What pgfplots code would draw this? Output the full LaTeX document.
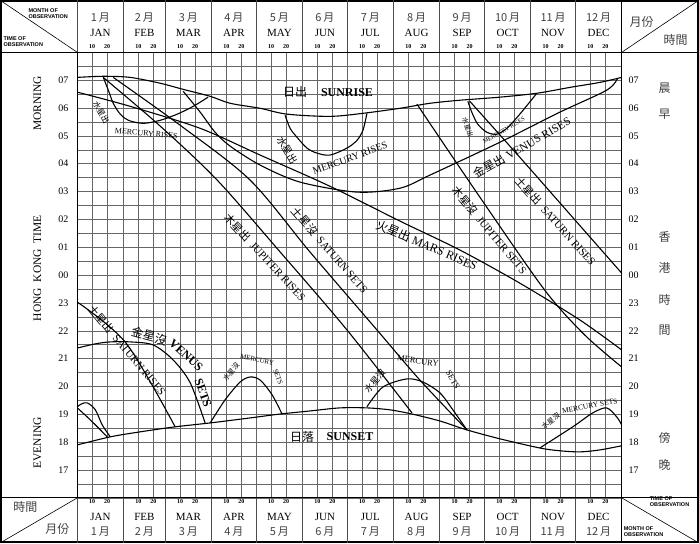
\documentclass[border=0pt]{standalone}
\usepackage{pgfplots}
\pgfplotsset{compat=1.18}
\usepackage{fontspec}
\setmainfont{Liberation Serif}
\setsansfont{Liberation Sans}
\newfontfamily\zh{Noto Sans CJK TC}
\begin{document}
\begin{tikzpicture}
\begin{axis}[at={(0pt,0pt)}, anchor=south west, width=545pt, height=446pt, scale only axis,
  xmin=0, xmax=365, ymin=16, ymax=32,
  xtick={0,10,20,31,41,51,59,69,79,90,100,110,120,130,140,151,161,171,181,191,201,212,222,232,243,253,263,273,283,293,304,314,324,334,344,354,365},
  ytick={16,16.5,...,32}, xticklabels={}, yticklabels={},
  grid=major, major grid style={black!60, line width=0.5pt}, major tick length=0pt,
  axis line style={line width=0.8pt},
  crv/.style={black, line width=1.1pt, smooth, no markers}]
% Sunrise
\addplot[crv] coordinates {(0,31.10) (17.4,31.14) (35.5,31.10) (55.6,30.89) (71.0,30.67) (89.1,30.42) (102.5,30.17) (122.6,29.99) (140.6,29.78) (169.4,29.70) (191.5,29.81) (216.3,29.99) (236.4,30.17) (256.5,30.28) (283.3,30.39) (308.1,30.53) (330.2,30.74) (350.3,30.92) (365,31.10)};
% Sunset
\addplot[crv] coordinates {(0,17.90) (22.1,18.19) (42.2,18.37) (65.6,18.55) (89.1,18.69) (115.9,18.87) (136.0,19.01) (156.0,19.12) (176.1,19.23) (194.2,19.23) (209.6,19.16) (224.4,19.01) (243.1,18.76) (261.2,18.44) (283.3,18.12) (310.1,17.79) (323.5,17.69) (336.9,17.65) (350.3,17.72) (365,17.87)};
% Mercury rises A
\addplot[crv] coordinates {(17.4,31.10) (20.8,30.64) (24.1,30.17) (28.8,29.78) (34.2,29.56) (44.2,29.45) (55.6,29.56) (67.0,29.78) (77.7,30.06) (87.7,30.39)};
% Mars rises
\addplot[crv] coordinates {(0,30.57) (35.5,30.06) (82.4,29.27) (122.6,28.31) (169.4,27.19) (216.3,25.94) (256.5,24.90) (296.7,23.71) (336.9,22.39) (365,21.31)};
% Jupiter rises
\addplot[crv] coordinates {(17.4,31.10) (55.6,29.35) (93.8,27.41) (136.0,24.83) (180.8,22.03) (224.4,19.05)};
% Saturn sets
\addplot[crv] coordinates {(24.1,31.10) (69.0,29.38) (115.9,27.41) (156.0,24.83) (200.9,22.03) (229.7,20.23) (261.2,18.44)};
% Venus rises
\addplot[crv] coordinates {(71.0,30.60) (82.4,29.85) (92.4,29.13) (102.5,28.63) (122.6,27.95) (149.3,27.34) (187.5,26.98) (216.3,27.12) (236.4,27.59) (283.3,28.77) (323.5,29.85) (354.9,30.64) (362.3,31.07)};
% Mercury rises B
\addplot[crv] coordinates {(139.3,29.74) (142.7,29.27) (147.3,28.95) (154.0,28.56) (160.7,28.38) (169.4,28.31) (180.8,28.56) (187.5,28.84) (191.5,29.20) (194.2,29.81)};
% Mercury rises C
\addplot[crv] coordinates {(261.9,30.24) (264.5,29.85) (268.5,29.42) (274.6,29.13) (281.3,29.06) (288.0,29.27) (296.7,29.78) (308.1,30.53)};
% Saturn rises (morning)
\addplot[crv] coordinates {(263.2,30.24) (296.7,28.23) (330.2,26.19) (365,24.07)};
% Jupiter sets
\addplot[crv] coordinates {(227.7,30.14) (269.9,26.80) (313.4,23.46) (340.2,21.85) (365,20.70)};
% Mercury sets A (two branches)
\addplot[crv] coordinates {(0,19.27) (2.7,19.37) (6.7,19.41) (12.1,19.16) (16.7,18.62) (22.1,18.19)};
\addplot[crv] coordinates {(0,19.23) (8.7,18.80) (20.1,18.19)};
% Venus sets
\addplot[crv] coordinates {(0,21.38) (12.1,21.53) (22.1,21.60) (35.5,21.60) (50.9,21.49) (64.3,20.95) (75.7,20.13) (85.7,18.69)};
% Saturn rises (evening)
\addplot[crv] coordinates {(0,23.03) (32.8,21.55) (65.6,18.55)};
% Mercury sets B
\addplot[crv] coordinates {(89.1,18.69) (99.1,19.52) (109.2,20.16) (115.9,20.34) (122.6,20.23) (130.6,19.70) (137.3,19.01)};
% Mercury sets C
\addplot[crv] coordinates {(194.2,19.27) (204.9,19.98) (221.0,20.27) (231.7,20.16) (243.1,19.77) (251.8,19.16) (261.2,18.44)};
% Mercury sets D
\addplot[crv] coordinates {(310.1,17.79) (332.2,18.55) (345.6,19.05) (354.9,19.23) (361.6,18.91) (365,18.62)};
\end{axis}
\begin{scope}[x=1pt, y=1pt, shift={(-77pt,-45pt)}]
% outer frame and table lines
\draw[line width=1.6pt] (0.8,0.8) rectangle (698.2,542.2);
\draw[line width=0.8pt] (0,491) -- (699,491);
\draw[line width=0.8pt] (0,45) -- (699,45);
\draw[line width=0.8pt] (77,0) -- (77,543);
\draw[line width=0.8pt] (622,0) -- (622,543);
\draw[line width=0.6pt] (0,543) -- (77,491);
\draw[line width=0.6pt] (622,491) -- (699,543);
\draw[line width=0.6pt] (0,0) -- (77,45);
\draw[line width=0.6pt] (622,45) -- (699,0);
% header texts
\foreach \s/\c/\e/\z in {0/15.5/JAN/1, 31/45/FEB/2, 59/74.5/MAR/3, 90/105/APR/4, 120/135.5/MAY/5, 151/166/JUN/6, 181/196.5/JUL/7, 212/227.5/AUG/8, 243/258/SEP/9, 273/288.5/OCT/10, 304/319/NOV/11, 334/349.5/DEC/12}{
  \draw[line width=0.6pt, black!70] ({77+1.4932*\s},491) -- ({77+1.4932*\s},543);
  \draw[line width=0.6pt, black!70] ({77+1.4932*\s},0) -- ({77+1.4932*\s},45);
  \node[font=\zh\fontsize{11}{11}\selectfont, text=black!75] at ({77+1.4932*\c},526) {\z\,月};
  \node[font=\fontsize{11}{11}\selectfont] at ({77+1.4932*\c},510) {\e};
  \node[font=\bfseries\fontsize{6}{6}\selectfont] at ({77+1.4932*(\s+10)},497) {10};
  \node[font=\bfseries\fontsize{6}{6}\selectfont] at ({77+1.4932*(\s+20)},497) {20};
  \node[font=\bfseries\fontsize{6}{6}\selectfont] at ({77+1.4932*(\s+10)},41) {10};
  \node[font=\bfseries\fontsize{6}{6}\selectfont] at ({77+1.4932*(\s+20)},41) {20};
  \node[font=\fontsize{11}{11}\selectfont] at ({77+1.4932*\c},26) {\e};
  \node[font=\zh\fontsize{11}{11}\selectfont, text=black!75] at ({77+1.4932*\c},11) {\z\,月};
}
% hour labels
\foreach \h/\l in {17/17,18/18,19/19,20/20,21/21,22/22,23/23,24/00,25/01,26/02,27/03,28/04,29/05,30/06,31/07}{
  \node[font=\fontsize{10}{10}\selectfont] at (63,{45+(\h-16)*27.875}) {\l};
  \node[font=\fontsize{10}{10}\selectfont] at (634,{45+(\h-16)*27.875}) {\l};
}
\node[rotate=90, font=\fontsize{11.5}{11.5}\selectfont] at (37,440) {MORNING};
\node[rotate=90, font=\fontsize{11.5}{11.5}\selectfont] at (37,275) {HONG\ \ KONG\ \ TIME};
\node[rotate=90, font=\fontsize{11.5}{11.5}\selectfont] at (37,100) {EVENING};
\begin{scope}[every node/.style={font=\zh\fontsize{12}{12}\selectfont, text=black!75}]
\node at (665,455) {晨};
\node at (665,429) {早};
\node at (665,306) {香};
\node at (665,275) {港};
\node at (665,243) {時};
\node at (665,213) {間};
\node at (665,105) {傍};
\node at (665,78) {晚};
\node at (642,521) {月份};
\node at (676,503) {時間};
\node at (25,36) {時間};
\node at (57,14) {月份};
\end{scope}
\begin{scope}[every node/.style={font=\sffamily\bfseries\fontsize{5.5}{6}\selectfont, align=left, inner sep=0pt}]
\node[anchor=north west] at (28,535) {MONTH OF\\OBSERVATION};
\node[anchor=north west] at (3,507) {TIME OF\\OBSERVATION};
\node[anchor=north west] at (650,46) {TIME OF\\OBSERVATION};
\node[anchor=north west] at (624,16) {MONTH OF\\OBSERVATION};
\end{scope}
% curve labels
\node[font=\zh\fontsize{12}{12}\selectfont] at (295,451) {日出};
\node[font=\bfseries\fontsize{12}{12}\selectfont] at (347,451) {SUNRISE};
\node[font=\zh\fontsize{12}{12}\selectfont] at (302,106) {日落};
\node[font=\bfseries\fontsize{12}{12}\selectfont] at (350,106) {SUNSET};
\node[rotate=-60, font=\zh\fontsize{8}{8}\selectfont] at (101,431) {水星出};
\node[rotate=-5, font=\fontsize{8}{8}\selectfont] at (146,410) {MERCURY RISES};
\node[rotate=-60, font=\zh\fontsize{10}{10}\selectfont] at (287,393) {水星出};
\node[rotate=20, font=\fontsize{10}{10}\selectfont] at (350,385) {MERCURY RISES};
\node[rotate=-70, font=\zh\fontsize{6.5}{6.5}\selectfont] at (468,416) {水星出};
\node[rotate=30, font=\fontsize{6}{6}\selectfont] at (504,413) {MERCURY RISES};
\node[rotate=30, font=\fontsize{11.5}{11.5}\selectfont] at (522,396) {{\zh 金星出} VENUS RISES};
\node[rotate=-23, font=\fontsize{12}{12}\selectfont] at (427,298) {{\zh 火星出} MARS RISES};
\node[rotate=-47, font=\fontsize{11}{11}\selectfont] at (265,286) {{\zh 木星出}\ \ JUPITER RISES};
\node[rotate=-49, font=\fontsize{11}{11}\selectfont] at (330,293) {{\zh 土星沒}\ \ SATURN SETS};
\node[rotate=-50, font=\fontsize{11}{11}\selectfont] at (490,313) {{\zh 木星沒}\ \ JUPITER SETS};
\node[rotate=-48, font=\fontsize{11}{11}\selectfont] at (556,322) {{\zh 土星出}\ \ SATURN RISES};
\node[rotate=-50, font=\fontsize{11}{11}\selectfont] at (127,193) {{\zh 土星出}\ \ SATURN RISES};
\node[rotate=-15, font=\zh\fontsize{12}{12}\selectfont] at (149,207) {金星沒};
\node[rotate=-42, font=\bfseries\fontsize{12}{12}\selectfont] at (186,188) {VENUS};
\node[rotate=-70, font=\bfseries\fontsize{12}{12}\selectfont] at (203,150) {SETS};
\node[rotate=50, font=\zh\fontsize{7}{7}\selectfont] at (231,171) {水星沒};
\node[rotate=-12, font=\fontsize{7}{7}\selectfont] at (257,183) {MERCURY};
\node[rotate=-70, font=\fontsize{7}{7}\selectfont] at (278,166) {SETS};
\node[rotate=50, font=\zh\fontsize{9}{9}\selectfont] at (375,162) {水星沒};
\node[rotate=-8, font=\fontsize{8.5}{8.5}\selectfont] at (418,182) {MERCURY};
\node[rotate=-60, font=\fontsize{8.5}{8.5}\selectfont] at (453,163) {SETS};
\node[rotate=38, font=\zh\fontsize{7}{7}\selectfont] at (551,122) {水星沒};
\node[rotate=10, font=\fontsize{7.5}{7.5}\selectfont] at (590,137) {MERCURY SETS};
\end{scope}
\end{tikzpicture}
\end{document}
